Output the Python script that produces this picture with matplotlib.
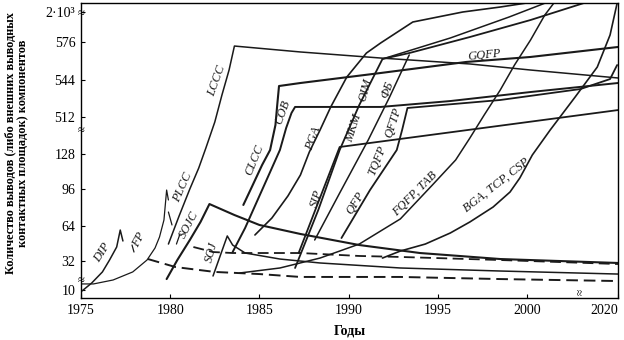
import numpy as np
import matplotlib
matplotlib.use("Agg")
import matplotlib.pyplot as plt

# ---------------- axis definitions (broken axes) ----------------
X_BREAK_YEARS = [1975, 2003, 2020]
X_BREAK_POS = [0, 499.5, 537]
Y_BREAK_VALS = [4, 10, 32, 64, 96, 128, 512, 544, 576, 2000, 2430]
Y_BREAK_POS = [0, 8, 37, 72, 109, 144, 181, 218, 256, 286, 295]

x_ticks = [1975, 1980, 1985, 1990, 1995, 2000, 2020]
x_tick_labels = ["1975", "1980", "1985", "1990", "1995", "2000", "2020"]
y_ticks = [10, 32, 64, 96, 128, 512, 544, 576, 2000]
y_tick_labels = ["10", "32", "64", "96", "128", "512", "544", "576", "2·10³"]

# ---------------- data (years, number of leads) ----------------
dip_years = [1975.06, 1975.6, 1976.2, 1976.6, 1977.0, 1977.2, 1977.35]
dip_vals = [9.3, 15.3, 23.7, 32.9, 44.8, 60.3, 50.3]

fp_years = [1975.0, 1975.7, 1976.8, 1977.9, 1978.7, 1979.15, 1979.4, 1979.65, 1979.8, 1979.9]
fp_vals = [14.6, 14.6, 17.6, 23.7, 32.9, 43.9, 53.9, 69.2, 95.1, 86.5]

lccc_years = [1979.9, 1980.5, 1981.1, 1981.6, 1982.0, 1982.5, 1982.9, 1983.3, 1983.6,
              1987.3, 1991.8, 1996.8, 2000.2, 2020.0]
lccc_vals = [47.5, 72.7, 96.0, 115.2, 190.3, 460, 531, 552.4, 572.6,
             567.6, 562.5, 557.5, 552.4, 545.7]

sojc_years = [1979.8, 1980.4, 1981.1, 1981.7, 1982.2, 1983.6, 1985.0, 1987.3, 1990.6,
              1994.0, 1998.5, 2020.0]
sojc_vals = [18.3, 32.9, 51.2, 67.5, 83.0, 73.5, 64.9, 56.7, 46.6, 39.3, 33.8, 30.5]

soj_years = [1982.4, 1982.8, 1983.2, 1983.5, 1984.2, 1986.15, 1988.4, 1992.9, 1998.5, 2020.0]
soj_vals = [20.6, 36.6, 54.9, 46.6, 39.3, 33.8, 30.5, 26.7, 24.4, 22.1]

cob_years = [1984.1, 1984.6, 1985.15, 1985.6, 1985.9, 1986.0, 1986.1, 1987.3, 1991.8,
             1996.6, 2000.2, 2020.0]
cob_vals = [82.2, 98.7, 117.9, 169.5, 429, 522.4, 538.8, 541.4, 549.9, 559.2, 563.4, 571.8]

pgabox_years = [1983.5, 1984.2, 1984.9, 1985.6, 1986.15, 1986.5, 1986.8, 1987.0, 1991.8,
                1995.7, 2000.2, 2020.0]
pgabox_vals = [40.2, 62.2, 86.5, 111.5, 169.5, 398, 515.5, 520.7, 520.7, 525.8, 533.6, 541.4]

pga_years = [1984.75, 1985.7, 1986.6, 1987.3, 1987.8, 1988.4, 1989.0, 1989.9, 1991.0,
             1991.8, 1993.6, 1996.4, 1998.5, 1999.9]
pga_vals = [55.8, 70.9, 90.0, 108.8, 148.8, 377, 520.7, 546.5, 566.7, 575.2, 1525, 2000,
            2238, 2420]

mkm_years = [1987.0, 1988.3, 1989.5, 1990.6, 1991.9, 1993.4, 1996.8, 2000.2, 2004.3]
mkm_vals = [26.7, 77.8, 169.5, 522.4, 561.7, 566.7, 813, 1620, 2420]

oim_years = [1991.9, 1995.7, 1999.0, 2001.0]
oim_vals = [561.7, 766, 1763, 2420]

fb_years = [1988.1, 1989.5, 1991.1, 1992.3, 1993.4]
fb_vals = [51.2, 92.5, 273, 529.3, 565.1]

qfp_years = [1989.6, 1991.2, 1992.7, 1993.0, 1993.3, 1998.5, 2003.0, 2016.4, 2019.6]
qfp_vals = [53.0, 95.1, 169.5, 377, 519.8, 526.7, 536.2, 544.8, 556.6]

sip_years = [1987.2, 1989.5, 2020.0]
sip_vals = [39.3, 200.7, 518]

fqfp_years = [1983.9, 1986.15, 1988.4, 1990.6, 1992.9, 1994.7, 1996.0, 1996.8, 1997.6,
              1998.5, 1999.3, 2000.2, 2001.0, 2001.5]
fqfp_vals = [22.9, 26.7, 34.7, 47.5, 70.1, 99.7, 122.5, 294, 513.7, 535.3, 556.6, 671,
             1858, 2420]

bga_years = [1991.9, 1992.9, 1994.3, 1995.7, 1996.8, 1998.1, 1999.05, 1999.6, 2000.3,
             2001.3, 2002.7, 2010.6, 2016.4, 2019.6]
bga_vals = [34.7, 41.1, 47.5, 57.6, 67.5, 80.4, 93.4, 106.1, 127.1,
            377, 529.3, 554.9, 908, 2420]

dash1_years = [1978.75, 1980.3, 1982.5, 1985.0, 1987.3, 1992.9, 1998.5, 2020.0]
dash1_vals = [33.8, 27.4, 23.7, 22.1, 19.9, 19.9, 18.3, 16.8]

dash2_years = [1981.3, 1982.4, 1983.5, 1987.3, 1990.6, 1992.9, 1998.5, 2020.0]
dash2_vals = [44.8, 40.2, 39.3, 39.3, 36.6, 35.7, 32.9, 29.7]

# short leader strokes
lead_fp_years = [1977.86, 1977.97]
lead_fp_vals = [46.6, 40.2]
lead_plcc_years = [1979.9, 1980.1]
lead_plcc_vals = [76.1, 64.9]
lead_sojc_years = [1980.35, 1980.55]
lead_sojc_vals = [47.5, 56.7]

labels = ["DIP", "FP", "PLCC", "SOJC", "SOJ", "LCCC", "CLCC", "COB", "PGA", "SIP",
          "MKM", "OIM", "ФБ", "QFTP", "TQFP", "QFP", "FQFP, TAB", "BGA, TCP, CSP", "GQFP"]
label_years = [1976.2, 1978.25, 1980.7, 1981.05, 1982.35, 1982.6, 1984.7, 1986.3, 1988.0,
               1988.2, 1990.3, 1990.95, 1992.15, 1992.5, 1991.6, 1990.4, 1993.7, 1998.3, 1997.6]
label_vals = [39.3, 51.2, 97.8, 64.9, 40.2, 543, 122.5, 516.3, 283.7, 87.4,
              400, 535.5, 535.3, 450, 121.6, 83.9, 91.7, 99.7, 565.1]
label_rot = [57, 62, 66, 62, 75, 70, 68, 70, 70, 72, 72, 75, 70, 72, 68, 58, 45, 38, 6]

# ---------------- figure ----------------
plt.rcParams['font.family'] = ['Liberation Serif', 'DejaVu Serif']
fig = plt.figure(figsize=(6.24, 3.40), dpi=100)
ax = fig.add_axes([81 / 624, 42 / 340, 537 / 624, 295 / 340])

fx = (lambda v: np.interp(v, X_BREAK_YEARS, X_BREAK_POS),
      lambda p: np.interp(p, X_BREAK_POS, X_BREAK_YEARS))
fy = (lambda v: np.interp(v, Y_BREAK_VALS, Y_BREAK_POS),
      lambda p: np.interp(p, Y_BREAK_POS, Y_BREAK_VALS))
ax.set_xscale('function', functions=fx)
ax.set_yscale('function', functions=fy)
ax.set_xlim(1975, 2020)
ax.set_ylim(4, 2430)

k = dict(color='#1a1a1a', solid_capstyle='round', solid_joinstyle='round')
ax.plot(dip_years, dip_vals, lw=1.1, **k)
ax.plot(fp_years, fp_vals, lw=0.9, **k)
ax.plot(lccc_years, lccc_vals, lw=1.1, **k)
ax.plot(sojc_years, sojc_vals, lw=1.5, **k)
ax.plot(soj_years, soj_vals, lw=1.1, **k)
ax.plot(cob_years, cob_vals, lw=1.5, **k)
ax.plot(pgabox_years, pgabox_vals, lw=1.4, **k)
ax.plot(pga_years, pga_vals, lw=1.2, **k)
ax.plot(mkm_years, mkm_vals, lw=1.3, **k)
ax.plot(oim_years, oim_vals, lw=1.1, **k)
ax.plot(fb_years, fb_vals, lw=1.1, **k)
ax.plot(qfp_years, qfp_vals, lw=1.3, **k)
ax.plot(sip_years, sip_vals, lw=1.3, **k)
ax.plot(fqfp_years, fqfp_vals, lw=1.1, **k)
ax.plot(bga_years, bga_vals, lw=1.2, **k)
for yy, vv in [(lead_fp_years, lead_fp_vals), (lead_plcc_years, lead_plcc_vals),
               (lead_sojc_years, lead_sojc_vals)]:
    ax.plot(yy, vv, lw=0.9, **k)
ax.plot(dash1_years, dash1_vals, lw=1.4, color='#1a1a1a', dashes=(6, 3))
ax.plot(dash2_years, dash2_vals, lw=1.3, color='#1a1a1a', dashes=(6, 3))

for t, xx, yy, r in zip(labels, label_years, label_vals, label_rot):
    ax.text(xx, yy, t, rotation=r, ha='center', va='center', fontsize=9,
            style='italic', color='#1a1a1a', rotation_mode='anchor')

ax.set_xticks(x_ticks)
ax.set_xticklabels(x_tick_labels, fontsize=10)
ax.get_xticklabels()[-1].set_horizontalalignment('right')
ax.set_yticks(y_ticks)
ax.set_yticklabels(y_tick_labels, fontsize=10)
ax.minorticks_off()
ax.tick_params(direction='in', length=3, width=0.8, pad=4)
for s in ax.spines.values():
    s.set_linewidth(1.0)

# break marks
for yf in [(298 - 14) / 295, (298 - 131) / 295, (298 - 281) / 295]:
    ax.text(0, yf, '≈', transform=ax.transAxes, ha='center', va='center',
            fontsize=9, clip_on=False)
ax.text((580 - 81) / 537, 0.02, '≈', transform=ax.transAxes, ha='center', va='center',
        fontsize=8, rotation=90, clip_on=False)

ax.set_xlabel('Годы', fontsize=10, fontweight='bold', labelpad=6)
fig.text(17 / 624, 1 - 143 / 340,
         'Количество выводов (либо внешних выводных\nконтактных площадок) компонентов',
         rotation=90, ha='center', va='center', fontsize=8.8, fontweight='bold',
         multialignment='center', linespacing=1.1)

fig.savefig('out.png', dpi=100)
